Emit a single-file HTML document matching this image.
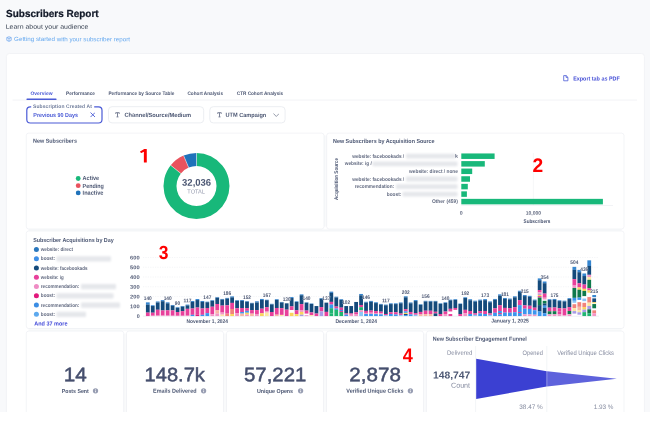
<!DOCTYPE html>
<html lang="en"><head><meta charset="utf-8"><title>Subscribers Report</title>
<style>
html,body{margin:0;padding:0}
body{width:650px;height:424px;overflow:hidden;position:relative;background:#f8f9fb;font-family:"Liberation Sans", Arial, sans-serif;}
.b{position:absolute;display:block}
.t{position:absolute;left:0;top:0;white-space:nowrap;transform-origin:0 0;}
</style></head><body>
<svg class="b" style="left:0;top:0" width="650" height="424" viewBox="0 0 650 424"><rect x="6.40" y="53.50" width="638.00" height="386.00" rx="3" fill="#fff" stroke="#f2f3f6" stroke-width="1.0"/><rect x="12.50" y="99.60" width="624.50" height="0.90" rx="0" fill="#f1f2f5"/><rect x="26.50" y="98.60" width="30.00" height="1.30" rx="0.5" fill="#4a5ad6"/><rect x="26.80" y="106.80" width="75.20" height="16.20" rx="3.5" fill="#fff" stroke="#4a5ad6" stroke-width="1.2"/><rect x="31.20" y="105.50" width="63.00" height="2.50" rx="0" fill="#fff"/><rect x="108.50" y="106.70" width="95.20" height="16.20" rx="3.5" fill="#fff" stroke="#eceef2" stroke-width="1.0"/><rect x="209.80" y="106.70" width="75.30" height="16.20" rx="3.5" fill="#fff" stroke="#eceef2" stroke-width="1.0"/><rect x="324.00" y="135.50" width="2.70" height="91.00" rx="0" fill="#f9fafb"/><rect x="28.50" y="229.00" width="593.00" height="102.10" rx="0" fill="#f9fafb"/><rect x="26.25" y="133.15" width="297.75" height="95.85" rx="2.4" fill="#fff" stroke="#e7e9ee" stroke-width="0.5"/><circle cx="78.20" cy="178.50" r="2.4" fill="#18b87a"/><circle cx="78.20" cy="185.70" r="2.4" fill="#e9535e"/><circle cx="78.20" cy="192.90" r="2.4" fill="#1f72ba"/><rect x="326.70" y="133.15" width="297.30" height="95.85" rx="2.4" fill="#fff" stroke="#e7e9ee" stroke-width="0.5"/><rect x="26.25" y="231.00" width="597.75" height="97.50" rx="2.4" fill="#fff" stroke="#e7e9ee" stroke-width="0.5"/><circle cx="36.40" cy="249.60" r="2.5" fill="#2a77bd"/><circle cx="36.40" cy="258.85" r="2.5" fill="#3f8fe6"/><circle cx="36.40" cy="268.10" r="2.5" fill="#144a7b"/><circle cx="36.40" cy="277.35" r="2.5" fill="#e8409b"/><circle cx="36.40" cy="286.60" r="2.5" fill="#ef8cc4"/><circle cx="36.40" cy="295.85" r="2.5" fill="#e2187c"/><circle cx="36.40" cy="305.10" r="2.5" fill="#3b8de4"/><circle cx="36.40" cy="314.35" r="2.5" fill="#5da9ee"/><rect x="123.50" y="333.50" width="3.30" height="78.50" rx="0" fill="#f9fafb"/><rect x="26.25" y="331.10" width="97.45" height="108.65" rx="2.4" fill="#fff" stroke="#e7e9ee" stroke-width="0.5"/><rect x="223.30" y="333.50" width="3.30" height="78.50" rx="0" fill="#f9fafb"/><rect x="126.50" y="331.10" width="97.00" height="108.65" rx="2.4" fill="#fff" stroke="#e7e9ee" stroke-width="0.5"/><rect x="323.30" y="333.50" width="3.30" height="78.50" rx="0" fill="#f9fafb"/><rect x="226.50" y="331.10" width="97.00" height="108.65" rx="2.4" fill="#fff" stroke="#e7e9ee" stroke-width="0.5"/><rect x="423.30" y="333.50" width="3.30" height="78.50" rx="0" fill="#f9fafb"/><rect x="326.50" y="331.10" width="97.00" height="108.65" rx="2.4" fill="#fff" stroke="#e7e9ee" stroke-width="0.5"/><rect x="426.40" y="331.10" width="197.60" height="108.65" rx="2.4" fill="#fff" stroke="#e7e9ee" stroke-width="0.5"/></svg>
<svg class="b" style="left:6.1px;top:35.9px" width="6" height="6" viewBox="0 0 6 6"><path d="M0.8 1.6 L3 0.7 L5.2 1.6 L5.2 4.4 L3 5.3 L0.8 4.4 Z M0.8 1.6 L3 2.5 L5.2 1.6 M3 2.5 L3 5.3" fill="none" stroke="#6aa5ee" stroke-width="0.7" stroke-linejoin="round"/></svg>
<svg class="b" style="left:563.3px;top:75.3px" width="5.6" height="6.4" viewBox="0 0 5.6 6.4"><path d="M0.7 0.6 H3.2 L4.9 2.3 V5.8 H0.7 Z M3.1 0.7 V2.4 H4.8" fill="none" stroke="#4a5ad6" stroke-width="0.8" stroke-linejoin="round"/></svg>
<svg class="b" style="left:89.5px;top:112.3px" width="5.6" height="5.6" viewBox="0 0 5.6 5.6"><path d="M0.8 0.8 L4.8 4.8 M4.8 0.8 L0.8 4.8" stroke="#4a5ad6" stroke-width="0.9" stroke-linecap="round"/></svg>
<svg class="b" style="left:114.8px;top:112.3px" width="5" height="5.6" viewBox="0 0 5 5.6"><path d="M0.7 1.8 V0.7 H4.3 V1.8 M2.5 0.7 V4.9 M1.5 4.9 H3.5" fill="none" stroke="#737b91" stroke-width="0.95"/></svg>
<svg class="b" style="left:216.8px;top:112.3px" width="5" height="5.6" viewBox="0 0 5 5.6"><path d="M0.7 1.8 V0.7 H4.3 V1.8 M2.5 0.7 V4.9 M1.5 4.9 H3.5" fill="none" stroke="#737b91" stroke-width="0.95"/></svg>
<svg class="b" style="left:272.5px;top:113px" width="6.6" height="4.4" viewBox="0 0 6.6 4.4"><path d="M0.7 0.8 L3.3 3.5 L5.9 0.8" fill="none" stroke="#7c8495" stroke-width="0.8" stroke-linecap="round" stroke-linejoin="round"/></svg>
<svg class="b" style="left:0;top:0" width="650" height="424" viewBox="0 0 650 424"><path d="M196.50 153.00 A33.0 33.0 0 1 1 170.75 165.37 L180.89 173.50 A20.0 20.0 0 1 0 196.50 166.00 Z" fill="#18b87a"/><path d="M170.75 165.37 A33.0 33.0 0 0 1 183.61 155.62 L188.69 167.59 A20.0 20.0 0 0 0 180.89 173.50 Z" fill="#e9535e"/><path d="M183.61 155.62 A33.0 33.0 0 0 1 196.50 153.00 L196.50 166.00 A20.0 20.0 0 0 0 188.69 167.59 Z" fill="#1f72ba"/><path d="M196.50 153.00 L196.50 166.00" stroke="#fff" stroke-width="0.45"/><path d="M170.75 165.37 L180.89 173.50" stroke="#fff" stroke-width="0.45"/><path d="M183.61 155.62 L188.69 167.59" stroke="#fff" stroke-width="0.45"/></svg>
<svg class="b" style="left:0;top:0" width="650" height="424" viewBox="0 0 650 424"><defs><filter id="bl" x="-5%" y="-40%" width="110%" height="180%"><feGaussianBlur stdDeviation="1.0"/></filter></defs><path d="M533.4 153 V205.4" stroke="#f0f1f4" stroke-width="0.6"/><path d="M461.2 205.5 H613" stroke="#eceef2" stroke-width="0.7"/><rect x="461.3" y="153.45" width="33.30" height="5.5" fill="#18b87a"/><rect x="461.3" y="161.10" width="23.50" height="5.5" fill="#18b87a"/><rect x="461.3" y="168.55" width="10.90" height="5.5" fill="#18b87a"/><rect x="461.3" y="176.25" width="8.70" height="5.5" fill="#18b87a"/><rect x="461.3" y="183.85" width="6.50" height="5.5" fill="#18b87a"/><rect x="461.3" y="191.35" width="5.60" height="5.5" fill="#18b87a"/><rect x="461.3" y="198.85" width="141.60" height="5.5" fill="#18b87a"/><rect x="406.0" y="153.80" width="49.5" height="4.8" rx="1" fill="#e5e7eb" filter="url(#bl)"/><rect x="372.5" y="161.45" width="85.0" height="4.8" rx="1" fill="#e5e7eb" filter="url(#bl)"/><rect x="406.0" y="176.60" width="51.5" height="4.8" rx="1" fill="#e5e7eb" filter="url(#bl)"/><rect x="396.0" y="184.20" width="61.5" height="4.8" rx="1" fill="#e5e7eb" filter="url(#bl)"/><rect x="402.5" y="191.70" width="55.0" height="4.8" rx="1" fill="#e5e7eb" filter="url(#bl)"/><rect x="56.5" y="256.25" width="54.5" height="5.2" rx="1" fill="#e5e7eb" filter="url(#bl)"/><rect x="81.0" y="284.00" width="35.0" height="5.2" rx="1" fill="#e5e7eb" filter="url(#bl)"/><rect x="56.5" y="293.25" width="57.0" height="5.2" rx="1" fill="#e5e7eb" filter="url(#bl)"/><rect x="81.0" y="302.50" width="39.0" height="5.2" rx="1" fill="#e5e7eb" filter="url(#bl)"/><rect x="56.5" y="311.75" width="29.5" height="5.2" rx="1" fill="#e5e7eb" filter="url(#bl)"/><path d="M143 306.25 H599" stroke="#eceef2" stroke-width="0.6" stroke-dasharray="1.2 1.2"/><path d="M143 296.50 H599" stroke="#eceef2" stroke-width="0.6" stroke-dasharray="1.2 1.2"/><path d="M143 286.75 H599" stroke="#eceef2" stroke-width="0.6" stroke-dasharray="1.2 1.2"/><path d="M143 277.00 H599" stroke="#eceef2" stroke-width="0.6" stroke-dasharray="1.2 1.2"/><path d="M143 267.25 H599" stroke="#eceef2" stroke-width="0.6" stroke-dasharray="1.2 1.2"/><path d="M143 257.50 H599" stroke="#eceef2" stroke-width="0.6" stroke-dasharray="1.2 1.2"/><path d="M143 316.20 H599" stroke="#e3e6eb" stroke-width="0.6"/><rect x="145.92" y="302.35" width="3.76" height="2.37" fill="#3585cf"/><rect x="145.92" y="304.67" width="3.76" height="7.97" fill="#144a7b"/><rect x="145.92" y="312.59" width="3.76" height="3.46" fill="#e8409b"/><rect x="150.88" y="305.27" width="3.76" height="0.80" fill="#3585cf"/><rect x="150.88" y="306.03" width="3.76" height="6.70" fill="#144a7b"/><rect x="150.88" y="312.68" width="3.76" height="3.05" fill="#e8409b"/><rect x="150.88" y="315.68" width="3.76" height="0.37" fill="#f296c6"/><rect x="155.84" y="301.47" width="3.76" height="1.07" fill="#3585cf"/><rect x="155.84" y="302.49" width="3.76" height="7.31" fill="#144a7b"/><rect x="155.84" y="309.75" width="3.76" height="5.86" fill="#e8409b"/><rect x="155.84" y="315.56" width="3.76" height="0.49" fill="#f296c6"/><rect x="160.80" y="300.11" width="3.76" height="1.16" fill="#3585cf"/><rect x="160.80" y="301.22" width="3.76" height="9.27" fill="#144a7b"/><rect x="160.80" y="310.44" width="3.76" height="5.14" fill="#e8409b"/><rect x="160.80" y="315.52" width="3.76" height="0.53" fill="#f296c6"/><rect x="165.76" y="302.35" width="3.76" height="1.01" fill="#3585cf"/><rect x="165.76" y="303.31" width="3.76" height="7.01" fill="#144a7b"/><rect x="165.76" y="310.27" width="3.76" height="5.37" fill="#e8409b"/><rect x="165.76" y="315.59" width="3.76" height="0.46" fill="#f296c6"/><rect x="170.72" y="304.98" width="3.76" height="0.82" fill="#3585cf"/><rect x="170.72" y="305.75" width="3.76" height="4.68" fill="#144a7b"/><rect x="170.72" y="310.38" width="3.76" height="5.34" fill="#e8409b"/><rect x="170.72" y="315.67" width="3.76" height="0.38" fill="#f296c6"/><rect x="175.68" y="307.23" width="3.76" height="0.66" fill="#3585cf"/><rect x="175.68" y="307.84" width="3.76" height="4.26" fill="#144a7b"/><rect x="175.68" y="312.05" width="3.76" height="3.74" fill="#e8409b"/><rect x="175.68" y="315.74" width="3.76" height="0.31" fill="#f296c6"/><rect x="180.64" y="306.06" width="3.76" height="0.75" fill="#3585cf"/><rect x="180.64" y="306.75" width="3.76" height="4.43" fill="#144a7b"/><rect x="180.64" y="311.13" width="3.76" height="4.62" fill="#e8409b"/><rect x="180.64" y="315.70" width="3.76" height="0.35" fill="#f296c6"/><rect x="185.60" y="304.59" width="3.76" height="0.85" fill="#3585cf"/><rect x="185.60" y="305.39" width="3.76" height="3.47" fill="#144a7b"/><rect x="185.60" y="308.81" width="3.76" height="6.89" fill="#e8409b"/><rect x="185.60" y="315.66" width="3.76" height="0.39" fill="#f296c6"/><rect x="190.56" y="300.99" width="3.76" height="0.95" fill="#3585cf"/><rect x="190.56" y="301.89" width="3.76" height="6.66" fill="#144a7b"/><rect x="190.56" y="308.49" width="3.76" height="6.36" fill="#e8409b"/><rect x="190.56" y="314.80" width="3.76" height="1.25" fill="#3b96ee"/><rect x="195.52" y="299.04" width="3.76" height="1.07" fill="#3585cf"/><rect x="195.52" y="300.05" width="3.76" height="7.51" fill="#144a7b"/><rect x="195.52" y="307.52" width="3.76" height="7.18" fill="#e8409b"/><rect x="195.52" y="314.64" width="3.76" height="1.41" fill="#e2187c"/><rect x="200.48" y="300.99" width="3.76" height="0.95" fill="#3585cf"/><rect x="200.48" y="301.89" width="3.76" height="6.66" fill="#144a7b"/><rect x="200.48" y="308.49" width="3.76" height="6.36" fill="#e8409b"/><rect x="200.48" y="314.80" width="3.76" height="1.25" fill="#3b96ee"/><rect x="205.44" y="301.67" width="3.76" height="0.62" fill="#3585cf"/><rect x="205.44" y="302.24" width="3.76" height="5.78" fill="#144a7b"/><rect x="205.44" y="307.97" width="3.76" height="5.21" fill="#e8409b"/><rect x="205.44" y="313.13" width="3.76" height="2.92" fill="#3b96ee"/><rect x="210.40" y="300.20" width="3.76" height="0.68" fill="#3585cf"/><rect x="210.40" y="300.84" width="3.76" height="5.89" fill="#144a7b"/><rect x="210.40" y="306.68" width="3.76" height="7.63" fill="#e8409b"/><rect x="210.40" y="314.26" width="3.76" height="1.79" fill="#f296c6"/><rect x="215.36" y="297.18" width="3.76" height="0.61" fill="#3585cf"/><rect x="215.36" y="297.75" width="3.76" height="6.26" fill="#144a7b"/><rect x="215.36" y="303.96" width="3.76" height="6.45" fill="#e8409b"/><rect x="215.36" y="310.35" width="3.76" height="3.25" fill="#f7b7a3"/><rect x="215.36" y="313.55" width="3.76" height="2.50" fill="#f296c6"/><rect x="220.32" y="298.94" width="3.76" height="0.73" fill="#3585cf"/><rect x="220.32" y="299.62" width="3.76" height="6.02" fill="#144a7b"/><rect x="220.32" y="305.59" width="3.76" height="7.05" fill="#e8409b"/><rect x="220.32" y="312.59" width="3.76" height="2.10" fill="#f296c6"/><rect x="220.32" y="314.64" width="3.76" height="1.42" fill="#fbe7a3"/><rect x="225.28" y="297.87" width="3.76" height="0.78" fill="#3585cf"/><rect x="225.28" y="298.59" width="3.76" height="6.76" fill="#144a7b"/><rect x="225.28" y="305.30" width="3.76" height="8.39" fill="#e8409b"/><rect x="225.28" y="313.64" width="3.76" height="2.41" fill="#f2837b"/><rect x="230.24" y="296.40" width="3.76" height="1.03" fill="#3585cf"/><rect x="230.24" y="297.38" width="3.76" height="5.54" fill="#144a7b"/><rect x="230.24" y="302.87" width="3.76" height="6.13" fill="#e8409b"/><rect x="230.24" y="308.94" width="3.76" height="5.15" fill="#f2837b"/><rect x="230.24" y="314.04" width="3.76" height="2.01" fill="#f9d45c"/><rect x="235.20" y="300.20" width="3.76" height="0.68" fill="#3585cf"/><rect x="235.20" y="300.84" width="3.76" height="7.47" fill="#144a7b"/><rect x="235.20" y="308.26" width="3.76" height="5.10" fill="#e8409b"/><rect x="235.20" y="313.31" width="3.76" height="2.74" fill="#f296c6"/><rect x="240.16" y="300.01" width="3.76" height="0.85" fill="#3585cf"/><rect x="240.16" y="300.81" width="3.76" height="7.25" fill="#144a7b"/><rect x="240.16" y="308.00" width="3.76" height="4.05" fill="#e8409b"/><rect x="240.16" y="312.00" width="3.76" height="1.65" fill="#3b96ee"/><rect x="240.16" y="313.60" width="3.76" height="2.45" fill="#f7b7a3"/><rect x="245.12" y="301.18" width="3.76" height="0.64" fill="#3585cf"/><rect x="245.12" y="301.77" width="3.76" height="6.42" fill="#144a7b"/><rect x="245.12" y="308.15" width="3.76" height="2.72" fill="#e8409b"/><rect x="245.12" y="310.81" width="3.76" height="1.98" fill="#3b96ee"/><rect x="245.12" y="312.74" width="3.76" height="1.98" fill="#f9d45c"/><rect x="245.12" y="314.67" width="3.76" height="1.38" fill="#f296c6"/><rect x="250.08" y="302.84" width="3.76" height="0.58" fill="#3585cf"/><rect x="250.08" y="303.36" width="3.76" height="6.76" fill="#144a7b"/><rect x="250.08" y="310.08" width="3.76" height="3.60" fill="#e8409b"/><rect x="250.08" y="313.63" width="3.76" height="2.42" fill="#f7b7a3"/><rect x="255.04" y="301.28" width="3.76" height="1.23" fill="#3585cf"/><rect x="255.04" y="302.46" width="3.76" height="7.71" fill="#144a7b"/><rect x="255.04" y="310.11" width="3.76" height="3.88" fill="#e8409b"/><rect x="255.04" y="313.94" width="3.76" height="2.11" fill="#f296c6"/><rect x="260.00" y="298.94" width="3.76" height="1.07" fill="#3585cf"/><rect x="260.00" y="299.96" width="3.76" height="8.75" fill="#144a7b"/><rect x="260.00" y="308.66" width="3.76" height="4.66" fill="#e8409b"/><rect x="260.00" y="313.27" width="3.76" height="2.78" fill="#f9d45c"/><rect x="264.96" y="299.72" width="3.76" height="0.54" fill="#3585cf"/><rect x="264.96" y="300.21" width="3.76" height="7.05" fill="#144a7b"/><rect x="264.96" y="307.21" width="3.76" height="3.79" fill="#e8409b"/><rect x="264.96" y="310.95" width="3.76" height="1.68" fill="#f296c6"/><rect x="264.96" y="312.58" width="3.76" height="3.47" fill="#fbe7a3"/><rect x="269.92" y="303.81" width="3.76" height="0.66" fill="#3585cf"/><rect x="269.92" y="304.42" width="3.76" height="7.61" fill="#144a7b"/><rect x="269.92" y="311.98" width="3.76" height="4.07" fill="#e8409b"/><rect x="274.88" y="299.23" width="3.76" height="0.72" fill="#3585cf"/><rect x="274.88" y="299.90" width="3.76" height="8.10" fill="#144a7b"/><rect x="274.88" y="307.95" width="3.76" height="6.76" fill="#e8409b"/><rect x="274.88" y="314.66" width="3.76" height="1.39" fill="#f7b7a3"/><rect x="279.84" y="301.96" width="3.76" height="0.61" fill="#3585cf"/><rect x="279.84" y="302.52" width="3.76" height="5.67" fill="#144a7b"/><rect x="279.84" y="308.14" width="3.76" height="6.79" fill="#e8409b"/><rect x="279.84" y="314.88" width="3.76" height="1.17" fill="#fbe7a3"/><rect x="284.80" y="303.32" width="3.76" height="6.39" fill="#144a7b"/><rect x="284.80" y="309.66" width="3.76" height="6.39" fill="#e8409b"/><rect x="289.76" y="297.08" width="3.76" height="1.00" fill="#3585cf"/><rect x="289.76" y="298.03" width="3.76" height="8.37" fill="#144a7b"/><rect x="289.76" y="306.35" width="3.76" height="3.64" fill="#e8409b"/><rect x="289.76" y="312.78" width="3.76" height="3.27" fill="#f9d45c"/><rect x="294.72" y="301.38" width="3.76" height="0.64" fill="#3585cf"/><rect x="294.72" y="301.96" width="3.76" height="8.39" fill="#144a7b"/><rect x="294.72" y="310.30" width="3.76" height="3.85" fill="#e8409b"/><rect x="294.72" y="314.10" width="3.76" height="1.95" fill="#f9d45c"/><rect x="299.68" y="294.36" width="3.76" height="0.92" fill="#3585cf"/><rect x="299.68" y="295.22" width="3.76" height="8.92" fill="#144a7b"/><rect x="299.68" y="304.10" width="3.76" height="6.33" fill="#e8409b"/><rect x="299.68" y="310.37" width="3.76" height="1.57" fill="#f296c6"/><rect x="299.68" y="311.89" width="3.76" height="2.86" fill="#f9d45c"/><rect x="299.68" y="314.70" width="3.76" height="1.35" fill="#a99be6"/><rect x="304.64" y="302.35" width="3.76" height="0.46" fill="#3585cf"/><rect x="304.64" y="302.76" width="3.76" height="7.83" fill="#144a7b"/><rect x="304.64" y="310.54" width="3.76" height="3.05" fill="#e8409b"/><rect x="304.64" y="315.18" width="3.76" height="0.87" fill="#f296c6"/><rect x="309.60" y="303.52" width="3.76" height="0.42" fill="#3585cf"/><rect x="309.60" y="303.89" width="3.76" height="8.54" fill="#144a7b"/><rect x="309.60" y="312.38" width="3.76" height="2.80" fill="#e8409b"/><rect x="309.60" y="315.13" width="3.76" height="0.92" fill="#fbe7a3"/><rect x="314.56" y="306.06" width="3.76" height="7.51" fill="#144a7b"/><rect x="314.56" y="313.51" width="3.76" height="2.54" fill="#e8409b"/><rect x="319.52" y="298.16" width="3.76" height="0.59" fill="#3585cf"/><rect x="319.52" y="298.69" width="3.76" height="8.44" fill="#144a7b"/><rect x="319.52" y="307.08" width="3.76" height="4.33" fill="#e8409b"/><rect x="319.52" y="311.36" width="3.76" height="4.69" fill="#a99be6"/><rect x="324.48" y="302.64" width="3.76" height="9.27" fill="#144a7b"/><rect x="324.48" y="311.86" width="3.76" height="4.19" fill="#e8409b"/><rect x="329.44" y="291.62" width="3.76" height="1.27" fill="#3585cf"/><rect x="329.44" y="292.84" width="3.76" height="9.07" fill="#144a7b"/><rect x="329.44" y="301.86" width="3.76" height="2.73" fill="#e8409b"/><rect x="329.44" y="304.54" width="3.76" height="3.71" fill="#3b96ee"/><rect x="329.44" y="308.20" width="3.76" height="5.41" fill="#1fb571"/><rect x="329.44" y="313.56" width="3.76" height="2.49" fill="#1fb571"/><rect x="334.40" y="296.69" width="3.76" height="0.82" fill="#3585cf"/><rect x="334.40" y="297.47" width="3.76" height="9.12" fill="#144a7b"/><rect x="334.40" y="306.54" width="3.76" height="1.98" fill="#e8409b"/><rect x="334.40" y="308.47" width="3.76" height="1.40" fill="#3b96ee"/><rect x="334.40" y="309.82" width="3.76" height="6.23" fill="#1fb571"/><rect x="339.36" y="299.23" width="3.76" height="0.72" fill="#3585cf"/><rect x="339.36" y="299.90" width="3.76" height="7.76" fill="#144a7b"/><rect x="339.36" y="307.62" width="3.76" height="2.40" fill="#e8409b"/><rect x="339.36" y="309.96" width="3.76" height="1.06" fill="#3b96ee"/><rect x="339.36" y="310.97" width="3.76" height="1.06" fill="#e8409b"/><rect x="339.36" y="311.98" width="3.76" height="4.07" fill="#1fb571"/><rect x="344.32" y="306.06" width="3.76" height="7.41" fill="#144a7b"/><rect x="344.32" y="313.41" width="3.76" height="1.24" fill="#e8409b"/><rect x="344.32" y="314.61" width="3.76" height="1.44" fill="#3b96ee"/><rect x="349.28" y="306.06" width="3.76" height="7.41" fill="#144a7b"/><rect x="349.28" y="313.41" width="3.76" height="1.24" fill="#e8409b"/><rect x="349.28" y="314.61" width="3.76" height="1.44" fill="#f296c6"/><rect x="354.24" y="301.96" width="3.76" height="10.44" fill="#144a7b"/><rect x="354.24" y="312.35" width="3.76" height="1.73" fill="#e8409b"/><rect x="354.24" y="314.03" width="3.76" height="2.02" fill="#f296c6"/><rect x="359.20" y="293.96" width="3.76" height="1.37" fill="#3585cf"/><rect x="359.20" y="295.29" width="3.76" height="9.75" fill="#144a7b"/><rect x="359.20" y="304.98" width="3.76" height="2.25" fill="#e8409b"/><rect x="359.20" y="307.19" width="3.76" height="3.13" fill="#1fb571"/><rect x="359.20" y="310.27" width="3.76" height="1.81" fill="#f296c6"/><rect x="359.20" y="312.03" width="3.76" height="4.02" fill="#8cc4f5"/><rect x="364.16" y="301.76" width="3.76" height="0.90" fill="#3585cf"/><rect x="364.16" y="302.62" width="3.76" height="8.31" fill="#144a7b"/><rect x="364.16" y="310.88" width="3.76" height="2.04" fill="#e8409b"/><rect x="364.16" y="312.87" width="3.76" height="1.19" fill="#f296c6"/><rect x="364.16" y="314.01" width="3.76" height="2.04" fill="#3b96ee"/><rect x="369.12" y="300.89" width="3.76" height="0.96" fill="#3585cf"/><rect x="369.12" y="301.79" width="3.76" height="8.82" fill="#144a7b"/><rect x="369.12" y="310.56" width="3.76" height="2.17" fill="#e8409b"/><rect x="369.12" y="312.68" width="3.76" height="1.26" fill="#f296c6"/><rect x="369.12" y="313.88" width="3.76" height="2.17" fill="#3b96ee"/><rect x="374.08" y="302.25" width="3.76" height="0.87" fill="#3585cf"/><rect x="374.08" y="303.08" width="3.76" height="8.02" fill="#144a7b"/><rect x="374.08" y="311.05" width="3.76" height="1.97" fill="#e8409b"/><rect x="374.08" y="312.98" width="3.76" height="1.15" fill="#f296c6"/><rect x="374.08" y="314.08" width="3.76" height="1.97" fill="#3b96ee"/><rect x="379.04" y="303.91" width="3.76" height="0.78" fill="#3585cf"/><rect x="379.04" y="304.64" width="3.76" height="7.06" fill="#144a7b"/><rect x="379.04" y="311.65" width="3.76" height="1.74" fill="#e8409b"/><rect x="379.04" y="313.34" width="3.76" height="1.02" fill="#f296c6"/><rect x="379.04" y="314.31" width="3.76" height="1.74" fill="#3b96ee"/><rect x="384.00" y="304.59" width="3.76" height="0.73" fill="#3585cf"/><rect x="384.00" y="305.28" width="3.76" height="8.72" fill="#144a7b"/><rect x="384.00" y="313.95" width="3.76" height="1.19" fill="#e8409b"/><rect x="384.00" y="315.09" width="3.76" height="0.96" fill="#8cc4f5"/><rect x="388.96" y="303.32" width="3.76" height="0.81" fill="#3585cf"/><rect x="388.96" y="304.09" width="3.76" height="8.16" fill="#144a7b"/><rect x="388.96" y="312.20" width="3.76" height="1.82" fill="#e8409b"/><rect x="388.96" y="313.97" width="3.76" height="2.08" fill="#3b96ee"/><rect x="393.92" y="303.32" width="3.76" height="0.81" fill="#3585cf"/><rect x="393.92" y="304.09" width="3.76" height="8.16" fill="#144a7b"/><rect x="393.92" y="312.20" width="3.76" height="2.33" fill="#e8409b"/><rect x="393.92" y="314.48" width="3.76" height="1.57" fill="#3b96ee"/><rect x="398.88" y="302.45" width="3.76" height="0.86" fill="#3585cf"/><rect x="398.88" y="303.26" width="3.76" height="10.35" fill="#144a7b"/><rect x="398.88" y="313.56" width="3.76" height="1.41" fill="#e8409b"/><rect x="398.88" y="314.92" width="3.76" height="1.13" fill="#8cc4f5"/><rect x="403.84" y="296.31" width="3.76" height="1.03" fill="#3585cf"/><rect x="403.84" y="297.29" width="3.76" height="11.87" fill="#144a7b"/><rect x="403.84" y="309.11" width="3.76" height="2.22" fill="#e8409b"/><rect x="403.84" y="311.27" width="3.76" height="1.63" fill="#3b96ee"/><rect x="403.84" y="312.85" width="3.76" height="1.23" fill="#f9d45c"/><rect x="403.84" y="314.03" width="3.76" height="1.03" fill="#144a7b"/><rect x="403.84" y="315.02" width="3.76" height="1.03" fill="#3b96ee"/><rect x="408.80" y="302.45" width="3.76" height="0.86" fill="#3585cf"/><rect x="408.80" y="303.26" width="3.76" height="8.72" fill="#144a7b"/><rect x="408.80" y="311.93" width="3.76" height="2.49" fill="#e8409b"/><rect x="408.80" y="314.37" width="3.76" height="1.68" fill="#3b96ee"/><rect x="413.76" y="300.11" width="3.76" height="1.00" fill="#3585cf"/><rect x="413.76" y="301.06" width="3.76" height="12.13" fill="#144a7b"/><rect x="413.76" y="313.14" width="3.76" height="1.64" fill="#e8409b"/><rect x="413.76" y="314.73" width="3.76" height="1.32" fill="#8cc4f5"/><rect x="418.72" y="304.30" width="3.76" height="0.64" fill="#3585cf"/><rect x="418.72" y="304.88" width="3.76" height="7.07" fill="#144a7b"/><rect x="418.72" y="311.90" width="3.76" height="2.62" fill="#e8409b"/><rect x="418.72" y="314.48" width="3.76" height="1.57" fill="#f7b7a3"/><rect x="423.68" y="300.79" width="3.76" height="0.81" fill="#3585cf"/><rect x="423.68" y="301.55" width="3.76" height="9.18" fill="#144a7b"/><rect x="423.68" y="310.68" width="3.76" height="3.40" fill="#e8409b"/><rect x="423.68" y="314.02" width="3.76" height="2.03" fill="#f7b7a3"/><rect x="428.64" y="300.89" width="3.76" height="0.81" fill="#3585cf"/><rect x="428.64" y="301.64" width="3.76" height="9.12" fill="#144a7b"/><rect x="428.64" y="310.71" width="3.76" height="3.37" fill="#e8409b"/><rect x="428.64" y="314.04" width="3.76" height="2.01" fill="#f7b7a3"/><rect x="433.60" y="300.89" width="3.76" height="0.65" fill="#3585cf"/><rect x="433.60" y="301.49" width="3.76" height="10.33" fill="#144a7b"/><rect x="433.60" y="311.77" width="3.76" height="1.71" fill="#e8409b"/><rect x="433.60" y="313.43" width="3.76" height="2.62" fill="#144a7b"/><rect x="438.56" y="303.32" width="3.76" height="0.56" fill="#3585cf"/><rect x="438.56" y="303.83" width="3.76" height="10.19" fill="#144a7b"/><rect x="438.56" y="313.97" width="3.76" height="2.08" fill="#e8409b"/><rect x="443.52" y="302.35" width="3.76" height="0.60" fill="#3585cf"/><rect x="443.52" y="302.90" width="3.76" height="8.65" fill="#144a7b"/><rect x="443.52" y="311.50" width="3.76" height="2.51" fill="#e8409b"/><rect x="443.52" y="313.95" width="3.76" height="2.10" fill="#f296c6"/><rect x="448.48" y="299.62" width="3.76" height="0.71" fill="#3585cf"/><rect x="448.48" y="300.28" width="3.76" height="8.57" fill="#144a7b"/><rect x="448.48" y="308.79" width="3.76" height="2.67" fill="#e8409b"/><rect x="448.48" y="314.03" width="3.76" height="2.02" fill="#e8409b"/><rect x="453.44" y="299.23" width="3.76" height="0.72" fill="#3585cf"/><rect x="453.44" y="299.90" width="3.76" height="8.10" fill="#144a7b"/><rect x="453.44" y="307.95" width="3.76" height="1.89" fill="#e8409b"/><rect x="458.40" y="303.52" width="3.76" height="0.55" fill="#3585cf"/><rect x="458.40" y="304.02" width="3.76" height="10.03" fill="#144a7b"/><rect x="458.40" y="314.00" width="3.76" height="2.05" fill="#e8409b"/><rect x="463.36" y="297.28" width="3.76" height="0.80" fill="#3585cf"/><rect x="463.36" y="298.03" width="3.76" height="11.84" fill="#144a7b"/><rect x="463.36" y="309.82" width="3.76" height="3.42" fill="#e8409b"/><rect x="463.36" y="313.19" width="3.76" height="2.86" fill="#f296c6"/><rect x="468.32" y="299.23" width="3.76" height="1.06" fill="#3585cf"/><rect x="468.32" y="300.24" width="3.76" height="10.78" fill="#144a7b"/><rect x="468.32" y="310.97" width="3.76" height="3.07" fill="#e8409b"/><rect x="468.32" y="313.99" width="3.76" height="2.06" fill="#3b96ee"/><rect x="473.28" y="300.69" width="3.76" height="0.97" fill="#3585cf"/><rect x="473.28" y="301.61" width="3.76" height="11.68" fill="#144a7b"/><rect x="473.28" y="313.24" width="3.76" height="1.58" fill="#e8409b"/><rect x="473.28" y="314.78" width="3.76" height="1.27" fill="#8cc4f5"/><rect x="478.24" y="299.62" width="3.76" height="1.03" fill="#3585cf"/><rect x="478.24" y="300.60" width="3.76" height="10.53" fill="#144a7b"/><rect x="478.24" y="311.09" width="3.76" height="2.34" fill="#e8409b"/><rect x="478.24" y="313.38" width="3.76" height="2.67" fill="#3b96ee"/><rect x="483.20" y="299.13" width="3.76" height="1.06" fill="#3585cf"/><rect x="483.20" y="300.14" width="3.76" height="10.85" fill="#144a7b"/><rect x="483.20" y="310.94" width="3.76" height="3.09" fill="#e8409b"/><rect x="483.20" y="313.98" width="3.76" height="2.07" fill="#3b96ee"/><rect x="488.16" y="301.38" width="3.76" height="0.93" fill="#3585cf"/><rect x="488.16" y="302.25" width="3.76" height="11.17" fill="#144a7b"/><rect x="488.16" y="313.37" width="3.76" height="1.51" fill="#e8409b"/><rect x="488.16" y="314.83" width="3.76" height="1.22" fill="#8cc4f5"/><rect x="493.12" y="298.94" width="3.76" height="0.90" fill="#3585cf"/><rect x="493.12" y="299.79" width="3.76" height="8.58" fill="#144a7b"/><rect x="493.12" y="308.32" width="3.76" height="4.49" fill="#e8409b"/><rect x="493.12" y="312.76" width="3.76" height="3.29" fill="#3b96ee"/><rect x="498.08" y="294.36" width="3.76" height="1.35" fill="#3585cf"/><rect x="498.08" y="295.65" width="3.76" height="9.57" fill="#144a7b"/><rect x="498.08" y="305.18" width="3.76" height="5.89" fill="#e8409b"/><rect x="498.08" y="311.02" width="3.76" height="2.21" fill="#3b96ee"/><rect x="498.08" y="313.19" width="3.76" height="1.13" fill="#e2187c"/><rect x="498.08" y="314.27" width="3.76" height="1.78" fill="#3b96ee"/><rect x="503.04" y="297.96" width="3.76" height="0.95" fill="#3585cf"/><rect x="503.04" y="298.86" width="3.76" height="9.07" fill="#144a7b"/><rect x="503.04" y="307.88" width="3.76" height="4.74" fill="#e8409b"/><rect x="503.04" y="312.57" width="3.76" height="3.48" fill="#3b96ee"/><rect x="508.00" y="298.55" width="3.76" height="0.92" fill="#3585cf"/><rect x="508.00" y="299.42" width="3.76" height="8.78" fill="#144a7b"/><rect x="508.00" y="308.15" width="3.76" height="4.59" fill="#e8409b"/><rect x="508.00" y="312.68" width="3.76" height="3.37" fill="#3b96ee"/><rect x="512.96" y="296.31" width="3.76" height="1.03" fill="#3585cf"/><rect x="512.96" y="297.29" width="3.76" height="9.90" fill="#144a7b"/><rect x="512.96" y="307.14" width="3.76" height="5.17" fill="#e8409b"/><rect x="512.96" y="312.26" width="3.76" height="3.79" fill="#3b96ee"/><rect x="517.92" y="290.75" width="3.76" height="1.06" fill="#3585cf"/><rect x="517.92" y="291.76" width="3.76" height="8.38" fill="#144a7b"/><rect x="517.92" y="300.09" width="3.76" height="5.10" fill="#e8409b"/><rect x="517.92" y="305.14" width="3.76" height="6.87" fill="#3b96ee"/><rect x="517.92" y="311.96" width="3.76" height="1.06" fill="#e8409b"/><rect x="517.92" y="312.97" width="3.76" height="3.08" fill="#3b96ee"/><rect x="522.88" y="295.04" width="3.76" height="1.10" fill="#3585cf"/><rect x="522.88" y="296.09" width="3.76" height="9.27" fill="#144a7b"/><rect x="522.88" y="305.31" width="3.76" height="3.40" fill="#e8409b"/><rect x="522.88" y="308.66" width="3.76" height="5.71" fill="#3b96ee"/><rect x="522.88" y="314.32" width="3.76" height="1.73" fill="#f296c6"/><rect x="527.84" y="295.82" width="3.76" height="1.06" fill="#3585cf"/><rect x="527.84" y="296.83" width="3.76" height="8.93" fill="#144a7b"/><rect x="527.84" y="305.71" width="3.76" height="3.28" fill="#e8409b"/><rect x="527.84" y="308.94" width="3.76" height="5.50" fill="#3b96ee"/><rect x="527.84" y="314.39" width="3.76" height="1.66" fill="#f296c6"/><rect x="532.80" y="299.62" width="3.76" height="0.87" fill="#3585cf"/><rect x="532.80" y="300.44" width="3.76" height="7.26" fill="#144a7b"/><rect x="532.80" y="307.65" width="3.76" height="2.67" fill="#e8409b"/><rect x="532.80" y="310.27" width="3.76" height="4.47" fill="#3b96ee"/><rect x="532.80" y="314.69" width="3.76" height="1.36" fill="#f296c6"/><rect x="537.76" y="278.37" width="3.76" height="1.93" fill="#3585cf"/><rect x="537.76" y="280.25" width="3.76" height="9.84" fill="#144a7b"/><rect x="537.76" y="290.03" width="3.76" height="2.31" fill="#e8409b"/><rect x="537.76" y="292.29" width="3.76" height="1.56" fill="#f296c6"/><rect x="537.76" y="293.80" width="3.76" height="1.18" fill="#a99be6"/><rect x="537.76" y="294.92" width="3.76" height="1.18" fill="#f9d45c"/><rect x="537.76" y="296.05" width="3.76" height="1.56" fill="#e8409b"/><rect x="537.76" y="297.56" width="3.76" height="7.58" fill="#0f7a4c"/><rect x="537.76" y="305.09" width="3.76" height="6.45" fill="#144a7b"/><rect x="537.76" y="311.48" width="3.76" height="4.57" fill="#3b96ee"/><rect x="542.72" y="281.49" width="3.76" height="1.78" fill="#3585cf"/><rect x="542.72" y="283.21" width="3.76" height="10.40" fill="#144a7b"/><rect x="542.72" y="293.57" width="3.76" height="4.19" fill="#e8409b"/><rect x="542.72" y="297.71" width="3.76" height="1.78" fill="#f296c6"/><rect x="542.72" y="300.81" width="3.76" height="2.81" fill="#0f7a4c"/><rect x="542.72" y="303.57" width="3.76" height="2.12" fill="#144a7b"/><rect x="542.72" y="305.65" width="3.76" height="2.12" fill="#3b96ee"/><rect x="542.72" y="307.72" width="3.76" height="5.57" fill="#144a7b"/><rect x="542.72" y="313.24" width="3.76" height="2.81" fill="#3b96ee"/><rect x="547.68" y="299.23" width="3.76" height="0.89" fill="#3585cf"/><rect x="547.68" y="300.07" width="3.76" height="7.60" fill="#144a7b"/><rect x="547.68" y="307.62" width="3.76" height="3.74" fill="#e8409b"/><rect x="547.68" y="311.30" width="3.76" height="3.07" fill="#0f7a4c"/><rect x="547.68" y="314.32" width="3.76" height="1.73" fill="#f296c6"/><rect x="552.64" y="298.94" width="3.76" height="0.90" fill="#3585cf"/><rect x="552.64" y="299.79" width="3.76" height="7.73" fill="#144a7b"/><rect x="552.64" y="307.47" width="3.76" height="3.80" fill="#e8409b"/><rect x="552.64" y="311.22" width="3.76" height="3.12" fill="#0f7a4c"/><rect x="552.64" y="314.29" width="3.76" height="1.76" fill="#f296c6"/><rect x="557.60" y="300.30" width="3.76" height="0.83" fill="#3585cf"/><rect x="557.60" y="301.09" width="3.76" height="7.11" fill="#144a7b"/><rect x="557.60" y="308.15" width="3.76" height="3.50" fill="#e8409b"/><rect x="557.60" y="311.60" width="3.76" height="2.88" fill="#e8409b"/><rect x="557.60" y="314.43" width="3.76" height="1.62" fill="#f296c6"/><rect x="562.56" y="300.69" width="3.76" height="0.82" fill="#3585cf"/><rect x="562.56" y="301.46" width="3.76" height="6.94" fill="#144a7b"/><rect x="562.56" y="308.35" width="3.76" height="6.94" fill="#e8409b"/><rect x="562.56" y="315.23" width="3.76" height="0.82" fill="#f296c6"/><rect x="567.52" y="298.16" width="3.76" height="0.94" fill="#3585cf"/><rect x="567.52" y="299.05" width="3.76" height="8.08" fill="#144a7b"/><rect x="567.52" y="307.08" width="3.76" height="3.98" fill="#e8409b"/><rect x="567.52" y="311.00" width="3.76" height="3.26" fill="#0f7a4c"/><rect x="567.52" y="314.22" width="3.76" height="1.83" fill="#f296c6"/><rect x="572.48" y="266.86" width="3.76" height="3.00" fill="#3585cf"/><rect x="572.48" y="269.81" width="3.76" height="9.39" fill="#144a7b"/><rect x="572.48" y="279.14" width="3.76" height="6.44" fill="#e8409b"/><rect x="572.48" y="285.53" width="3.76" height="2.51" fill="#f296c6"/><rect x="572.48" y="287.99" width="3.76" height="9.88" fill="#0f7a4c"/><rect x="572.48" y="297.82" width="3.76" height="3.00" fill="#3b96ee"/><rect x="572.48" y="300.77" width="3.76" height="2.02" fill="#8cc4f5"/><rect x="572.48" y="304.21" width="3.76" height="3.98" fill="#f2837b"/><rect x="572.48" y="308.14" width="3.76" height="3.00" fill="#fbe7a3"/><rect x="572.48" y="311.09" width="3.76" height="2.51" fill="#a99be6"/><rect x="577.44" y="269.88" width="3.76" height="2.36" fill="#3585cf"/><rect x="577.44" y="272.19" width="3.76" height="11.12" fill="#144a7b"/><rect x="577.44" y="283.26" width="3.76" height="4.20" fill="#e8409b"/><rect x="577.44" y="287.41" width="3.76" height="2.36" fill="#f9d45c"/><rect x="577.44" y="289.71" width="3.76" height="7.89" fill="#0f7a4c"/><rect x="577.44" y="297.55" width="3.76" height="2.36" fill="#3b96ee"/><rect x="577.44" y="302.16" width="3.76" height="4.66" fill="#f2837b"/><rect x="577.44" y="306.78" width="3.76" height="3.74" fill="#f7b7a3"/><rect x="577.44" y="310.47" width="3.76" height="1.89" fill="#fbe7a3"/><rect x="577.44" y="312.31" width="3.76" height="2.36" fill="#a99be6"/><rect x="582.40" y="273.49" width="3.76" height="2.60" fill="#3585cf"/><rect x="582.40" y="276.04" width="3.76" height="8.55" fill="#144a7b"/><rect x="582.40" y="284.54" width="3.76" height="4.30" fill="#e8409b"/><rect x="582.40" y="288.79" width="3.76" height="2.18" fill="#f9d45c"/><rect x="582.40" y="290.92" width="3.76" height="5.15" fill="#0f7a4c"/><rect x="582.40" y="298.57" width="3.76" height="2.60" fill="#8cc4f5"/><rect x="582.40" y="302.82" width="3.76" height="4.30" fill="#f2837b"/><rect x="582.40" y="307.07" width="3.76" height="2.60" fill="#f9d45c"/><rect x="582.40" y="309.62" width="3.76" height="2.60" fill="#a99be6"/><rect x="582.40" y="312.17" width="3.76" height="3.88" fill="#1fb571"/><rect x="587.36" y="260.33" width="3.76" height="5.62" fill="#3585cf"/><rect x="587.36" y="265.89" width="3.76" height="8.96" fill="#144a7b"/><rect x="587.36" y="274.80" width="3.76" height="2.28" fill="#f296c6"/><rect x="587.36" y="277.03" width="3.76" height="2.83" fill="#fbe7a3"/><rect x="587.36" y="279.81" width="3.76" height="8.40" fill="#0f7a4c"/><rect x="587.36" y="288.16" width="3.76" height="2.28" fill="#e8409b"/><rect x="587.36" y="290.39" width="3.76" height="2.28" fill="#f9d45c"/><rect x="587.36" y="297.07" width="3.76" height="5.62" fill="#f2837b"/><rect x="587.36" y="302.64" width="3.76" height="3.39" fill="#fbe7a3"/><rect x="587.36" y="305.98" width="3.76" height="3.39" fill="#a99be6"/><rect x="587.36" y="309.32" width="3.76" height="3.95" fill="#0f7a4c"/><rect x="587.36" y="313.22" width="3.76" height="2.83" fill="#1fb571"/><rect x="592.32" y="295.04" width="3.76" height="2.15" fill="#3585cf"/><rect x="592.32" y="298.39" width="3.76" height="3.82" fill="#144a7b"/><rect x="592.32" y="302.16" width="3.76" height="1.10" fill="#f9d45c"/><rect x="592.32" y="304.05" width="3.76" height="4.24" fill="#0f7a4c"/><rect x="592.32" y="310.34" width="3.76" height="2.98" fill="#f2837b"/><rect x="592.32" y="313.27" width="3.76" height="2.78" fill="#f296c6"/><circle cx="95.50" cy="390.80" r="2.65" fill="#979db2"/><path d="M95.50 390.50 V392.30" stroke="#fff" stroke-width="0.8"/><circle cx="95.50" cy="389.50" r="0.45" fill="#fff"/><circle cx="203.60" cy="390.80" r="2.65" fill="#979db2"/><path d="M203.60 390.50 V392.30" stroke="#fff" stroke-width="0.8"/><circle cx="203.60" cy="389.50" r="0.45" fill="#fff"/><circle cx="300.60" cy="390.80" r="2.65" fill="#979db2"/><path d="M300.60 390.50 V392.30" stroke="#fff" stroke-width="0.8"/><circle cx="300.60" cy="389.50" r="0.45" fill="#fff"/><circle cx="410.40" cy="390.80" r="2.65" fill="#979db2"/><path d="M410.40 390.50 V392.30" stroke="#fff" stroke-width="0.8"/><circle cx="410.40" cy="389.50" r="0.45" fill="#fff"/><path d="M475.6 346 V412 M546.8 346 V412" stroke="#eef0f3" stroke-width="0.7"/><path d="M476.2 358.8 L546.7 371.2 L546.7 386.5 L476.2 398.9 Z" fill="#3b40d2"/><path d="M547.1 371.2 L616.8 378.8 L547.1 386.5 Z" fill="#5e62dc"/></svg>
<div class="b" style="left:0;top:412px;width:650px;height:12px;background:#fff;z-index:50"></div>
<div id="txt" style="position:absolute;left:0;top:0;width:650px;height:424px;will-change:transform">
<span class="t" id="t0" style="font-size:10.8px;line-height:14.04px;font-weight:700;color:#111827;transform:translate(6.12px,6.31px) rotate(0.03deg) scale(0.9236,0.9487);-webkit-text-stroke:0.25px #111827;">Subscribers Report</span>
<span class="t" id="t1" style="font-size:6.4px;line-height:8.32px;font-weight:400;color:#374151;transform:translate(5.76px,22.86px) rotate(0.03deg) scale(1.0877,0.9892);">Learn about your audience</span>
<span class="t" id="t2" style="font-size:6.1px;line-height:7.93px;font-weight:400;color:#67aaf0;transform:translate(14.09px,35.17px) rotate(0.03deg) scale(1.0218,0.9888);">Getting started with your subscriber report</span>
<span class="t" id="t3" style="font-size:5.78px;line-height:7.51px;font-weight:700;color:#444ed6;transform:translate(573.20px,75.53px) rotate(0.03deg) scaleX(0.9361);">Export tab as PDF</span>
<span class="t" id="t4" style="font-size:5.01px;line-height:6.51px;font-weight:700;color:#4a5ad6;transform:translate(30.50px,90.00px) rotate(0.03deg) scaleX(0.9888);">Overview</span>
<span class="t" id="t5" style="font-size:5.01px;line-height:6.51px;font-weight:700;color:#4c5773;transform:translate(66.00px,90.00px) rotate(0.03deg) scaleX(0.9484);">Performance</span>
<span class="t" id="t6" style="font-size:5.01px;line-height:6.51px;font-weight:700;color:#4c5773;transform:translate(108.50px,90.00px) rotate(0.03deg) scaleX(0.9371);">Performance by Source Table</span>
<span class="t" id="t7" style="font-size:5.01px;line-height:6.51px;font-weight:700;color:#4c5773;transform:translate(187.50px,90.00px) rotate(0.03deg) scaleX(0.9304);">Cohort Analysis</span>
<span class="t" id="t8" style="font-size:5.01px;line-height:6.51px;font-weight:700;color:#4c5773;transform:translate(236.80px,90.00px) rotate(0.03deg) scaleX(0.9292);">CTR Cohort Analysis</span>
<span class="t" id="t9" style="font-size:5.12px;line-height:6.66px;font-weight:700;color:#6f7c9b;transform:translate(33.00px,103.04px) rotate(0.03deg) scaleX(0.9662);letter-spacing:0.12px;">Subscription Created At</span>
<span class="t" id="t10" style="font-size:5.89px;line-height:7.66px;font-weight:700;color:#4a5ad6;transform:translate(33.30px,111.87px) rotate(0.03deg) scaleX(0.9184);">Previous 90 Days</span>
<span class="t" id="t11" style="font-size:5.89px;line-height:7.66px;font-weight:700;color:#4c5773;transform:translate(124.50px,111.87px) rotate(0.03deg) scaleX(0.9699);">Channel/Source/Medium</span>
<span class="t" id="t12" style="font-size:5.89px;line-height:7.66px;font-weight:700;color:#4c5773;transform:translate(225.50px,111.87px) rotate(0.03deg) scaleX(0.9540);">UTM Campaign</span>
<span class="t" id="t13" style="font-size:5.78px;line-height:7.51px;font-weight:700;color:#4c5773;transform:translate(33.00px,137.83px) rotate(0.03deg) scaleX(0.9402);">New Subscribers</span>
<span class="t" id="t14" style="font-size:9.6px;line-height:12.48px;font-weight:700;color:#4c5773;transform:translate(182.10px,176.57px) rotate(0.03deg) scale(0.9888,1.0149);">32,036</span>
<span class="t" id="t15" style="font-size:5.8px;line-height:7.54px;font-weight:400;color:#9499ad;transform:translate(187.30px,188.39px) rotate(0.03deg) scale(0.9731,1.0120);">TOTAL</span>
<span class="t" id="t16" style="font-size:6.0px;line-height:7.8px;font-weight:700;color:#4c5773;transform:translate(82.60px,175.30px) rotate(0.03deg) scaleX(0.9214);">Active</span>
<span class="t" id="t17" style="font-size:6.0px;line-height:7.8px;font-weight:700;color:#4c5773;transform:translate(82.60px,182.50px) rotate(0.03deg) scaleX(0.8956);">Pending</span>
<span class="t" id="t18" style="font-size:6.0px;line-height:7.8px;font-weight:700;color:#4c5773;transform:translate(82.60px,189.70px) rotate(0.03deg) scaleX(0.9347);">Inactive</span>
<span class="t" id="t19" style="font-size:21px;line-height:27.3px;font-weight:700;color:#fe0000;font-family:'NanumGothic','Liberation Sans',sans-serif;transform:translate(136.41px,144.50px) rotate(0.03deg) scale(1.2908,0.8533);">1</span>
<span class="t" id="t20" style="font-size:5.78px;line-height:7.51px;font-weight:700;color:#4c5773;transform:translate(333.10px,137.83px) rotate(0.03deg) scaleX(0.9308);">New Subscribers by Acquisition Source</span>
<span class="t" id="t21" style="font-size:19.5px;line-height:25.35px;font-weight:700;color:#fe0000;transform:translate(532.50px,152.78px) rotate(0.03deg) scale(0.9846,1.0065);">2</span>
<span class="t" id="t22" style="font-size:5.34px;line-height:6.94px;font-weight:700;color:#656d83;transform:translate(352.20px,152.80px) rotate(0.03deg) scaleX(0.8913);">website: facebookads /</span>
<span class="t" id="t23" style="font-size:5.34px;line-height:6.94px;font-weight:700;color:#656d83;transform:translate(454.93px,152.80px) rotate(0.03deg);">k</span>
<span class="t" id="t24" style="font-size:5.34px;line-height:6.94px;font-weight:700;color:#656d83;transform:translate(344.80px,160.45px) rotate(0.03deg) scaleX(0.8852);">website: ig /</span>
<span class="t" id="t25" style="font-size:5.34px;line-height:6.94px;font-weight:700;color:#656d83;transform:translate(409.10px,167.90px) rotate(0.03deg) scaleX(0.8957);">website: direct / none</span>
<span class="t" id="t26" style="font-size:5.34px;line-height:6.94px;font-weight:700;color:#656d83;transform:translate(352.20px,175.60px) rotate(0.03deg) scaleX(0.8913);">website: facebookads /</span>
<span class="t" id="t27" style="font-size:5.34px;line-height:6.94px;font-weight:700;color:#656d83;transform:translate(354.70px,183.20px) rotate(0.03deg) scaleX(0.8833);">recommendation:</span>
<span class="t" id="t28" style="font-size:5.34px;line-height:6.94px;font-weight:700;color:#656d83;transform:translate(386.80px,190.70px) rotate(0.03deg) scaleX(0.8906);">boost:</span>
<span class="t" id="t29" style="font-size:5.34px;line-height:6.94px;font-weight:700;color:#656d83;transform:translate(431.90px,198.20px) rotate(0.03deg) scaleX(0.9239);">Other (459)</span>
<span class="t" id="t30" style="font-size:5.23px;line-height:6.8px;font-weight:700;color:#656d83;transform:translate(459.85px,209.67px) rotate(0.03deg);">0</span>
<span class="t" id="t31" style="font-size:5.23px;line-height:6.8px;font-weight:700;color:#656d83;transform:translate(525.65px,209.67px) rotate(0.03deg) scaleX(0.9706);">10,000</span>
<span class="t" id="t32" style="font-size:5.34px;line-height:6.94px;font-weight:700;color:#4c5773;transform:translate(523.60px,217.60px) rotate(0.03deg) scaleX(0.8698);">Subscribers</span>
<span class="t" id="t33" style="font-size:5.34px;line-height:6.94px;font-weight:700;color:#4c5773;transform:translate(336.60px,179.00px) rotate(-90.03deg) scaleX(0.8649) translate(-24.28px,-3.40px);">Acquisition Source</span>
<span class="t" id="t34" style="font-size:5.78px;line-height:7.51px;font-weight:700;color:#4c5773;transform:translate(33.20px,236.53px) rotate(0.03deg) scaleX(0.9293);">Subscriber Acquisitions by Day</span>
<span class="t" id="t35" style="font-size:19.5px;line-height:25.35px;font-weight:700;color:#fe0000;transform:translate(158.73px,239.93px) rotate(0.03deg) scale(0.8951,0.9775);">3</span>
<span class="t" id="t36" style="font-size:5.34px;line-height:6.94px;font-weight:700;color:#656d83;transform:translate(40.80px,246.20px) rotate(0.03deg) scaleX(0.8630);">website: direct</span>
<span class="t" id="t37" style="font-size:5.34px;line-height:6.94px;font-weight:700;color:#656d83;transform:translate(40.80px,255.45px) rotate(0.03deg) scaleX(0.8722);">boost:</span>
<span class="t" id="t38" style="font-size:5.34px;line-height:6.94px;font-weight:700;color:#656d83;transform:translate(40.80px,264.70px) rotate(0.03deg) scaleX(0.8433);">website: facebookads</span>
<span class="t" id="t39" style="font-size:5.34px;line-height:6.94px;font-weight:700;color:#656d83;transform:translate(40.80px,273.95px) rotate(0.03deg) scaleX(0.8349);">website: ig</span>
<span class="t" id="t40" style="font-size:5.34px;line-height:6.94px;font-weight:700;color:#656d83;transform:translate(40.80px,283.20px) rotate(0.03deg) scaleX(0.8609);">recommendation:</span>
<span class="t" id="t41" style="font-size:5.34px;line-height:6.94px;font-weight:700;color:#656d83;transform:translate(40.80px,292.45px) rotate(0.03deg) scaleX(0.8722);">boost:</span>
<span class="t" id="t42" style="font-size:5.34px;line-height:6.94px;font-weight:700;color:#656d83;transform:translate(40.80px,301.70px) rotate(0.03deg) scaleX(0.8609);">recommendation:</span>
<span class="t" id="t43" style="font-size:5.34px;line-height:6.94px;font-weight:700;color:#656d83;transform:translate(40.80px,310.95px) rotate(0.03deg) scaleX(0.8722);">boost:</span>
<span class="t" id="t44" style="font-size:5.89px;line-height:7.66px;font-weight:700;color:#4048d8;transform:translate(34.30px,320.57px) rotate(0.03deg) scaleX(0.9327);">And 37 more</span>
<span class="t" id="t45" style="font-size:5.34px;line-height:6.94px;font-weight:700;color:#565f79;transform:translate(136.63px,312.91px) rotate(0.03deg);">0</span>
<span class="t" id="t46" style="font-size:5.34px;line-height:6.94px;font-weight:700;color:#565f79;transform:translate(130.10px,303.16px) rotate(0.03deg) scaleX(1.0685);">100</span>
<span class="t" id="t47" style="font-size:5.34px;line-height:6.94px;font-weight:700;color:#565f79;transform:translate(130.10px,293.41px) rotate(0.03deg) scaleX(1.0685);">200</span>
<span class="t" id="t48" style="font-size:5.34px;line-height:6.94px;font-weight:700;color:#565f79;transform:translate(130.10px,283.66px) rotate(0.03deg) scaleX(1.0685);">300</span>
<span class="t" id="t49" style="font-size:5.34px;line-height:6.94px;font-weight:700;color:#565f79;transform:translate(130.10px,273.91px) rotate(0.03deg) scaleX(1.0685);">400</span>
<span class="t" id="t50" style="font-size:5.34px;line-height:6.94px;font-weight:700;color:#565f79;transform:translate(130.10px,264.16px) rotate(0.03deg) scaleX(1.0685);">500</span>
<span class="t" id="t51" style="font-size:5.34px;line-height:6.94px;font-weight:700;color:#565f79;transform:translate(130.10px,254.41px) rotate(0.03deg) scaleX(1.0685);">600</span>
<span class="t" id="t52" style="font-size:5.23px;line-height:6.8px;font-weight:700;color:#4c5773;transform:translate(143.80px,294.92px) rotate(0.03deg) scaleX(0.9176);text-shadow:0 0 1px #fff,0 0 1px #fff;">140</span>
<span class="t" id="t53" style="font-size:5.23px;line-height:6.8px;font-weight:700;color:#4c5773;transform:translate(163.64px,294.92px) rotate(0.03deg) scaleX(0.9176);text-shadow:0 0 1px #fff,0 0 1px #fff;">140</span>
<span class="t" id="t54" style="font-size:5.23px;line-height:6.8px;font-weight:700;color:#4c5773;transform:translate(174.86px,299.80px) rotate(0.03deg) scaleX(0.9290);text-shadow:0 0 1px #fff,0 0 1px #fff;">90</span>
<span class="t" id="t55" style="font-size:5.23px;line-height:6.8px;font-weight:700;color:#4c5773;transform:translate(183.48px,297.16px) rotate(0.03deg) scaleX(0.9499);text-shadow:0 0 1px #fff,0 0 1px #fff;">117</span>
<span class="t" id="t56" style="font-size:5.23px;line-height:6.8px;font-weight:700;color:#4c5773;transform:translate(203.32px,294.24px) rotate(0.03deg) scaleX(0.9176);text-shadow:0 0 1px #fff,0 0 1px #fff;">147</span>
<span class="t" id="t57" style="font-size:5.23px;line-height:6.8px;font-weight:700;color:#4c5773;transform:translate(223.16px,290.44px) rotate(0.03deg) scaleX(0.9176);text-shadow:0 0 1px #fff,0 0 1px #fff;">186</span>
<span class="t" id="t58" style="font-size:5.23px;line-height:6.8px;font-weight:700;color:#4c5773;transform:translate(243.00px,293.75px) rotate(0.03deg) scaleX(0.9176);text-shadow:0 0 1px #fff,0 0 1px #fff;">152</span>
<span class="t" id="t59" style="font-size:5.23px;line-height:6.8px;font-weight:700;color:#4c5773;transform:translate(262.84px,292.29px) rotate(0.03deg) scaleX(0.9176);text-shadow:0 0 1px #fff,0 0 1px #fff;">167</span>
<span class="t" id="t60" style="font-size:5.23px;line-height:6.8px;font-weight:700;color:#4c5773;transform:translate(282.68px,295.90px) rotate(0.03deg) scaleX(0.9176);text-shadow:0 0 1px #fff,0 0 1px #fff;">130</span>
<span class="t" id="t61" style="font-size:5.23px;line-height:6.8px;font-weight:700;color:#4c5773;transform:translate(302.52px,294.92px) rotate(0.03deg) scaleX(0.9176);text-shadow:0 0 1px #fff,0 0 1px #fff;">140</span>
<span class="t" id="t62" style="font-size:5.23px;line-height:6.8px;font-weight:700;color:#4c5773;transform:translate(322.36px,295.21px) rotate(0.03deg) scaleX(0.9176);text-shadow:0 0 1px #fff,0 0 1px #fff;">137</span>
<span class="t" id="t63" style="font-size:5.23px;line-height:6.8px;font-weight:700;color:#4c5773;transform:translate(342.20px,298.63px) rotate(0.03deg) scaleX(0.9176);text-shadow:0 0 1px #fff,0 0 1px #fff;">102</span>
<span class="t" id="t64" style="font-size:5.23px;line-height:6.8px;font-weight:700;color:#4c5773;transform:translate(362.04px,294.34px) rotate(0.03deg) scaleX(0.9176);text-shadow:0 0 1px #fff,0 0 1px #fff;">146</span>
<span class="t" id="t65" style="font-size:5.23px;line-height:6.8px;font-weight:700;color:#4c5773;transform:translate(381.88px,297.16px) rotate(0.03deg) scaleX(0.9499);text-shadow:0 0 1px #fff,0 0 1px #fff;">117</span>
<span class="t" id="t66" style="font-size:5.23px;line-height:6.8px;font-weight:700;color:#4c5773;transform:translate(401.72px,288.88px) rotate(0.03deg) scaleX(0.9176);text-shadow:0 0 1px #fff,0 0 1px #fff;">202</span>
<span class="t" id="t67" style="font-size:5.23px;line-height:6.8px;font-weight:700;color:#4c5773;transform:translate(421.56px,293.36px) rotate(0.03deg) scaleX(0.9176);text-shadow:0 0 1px #fff,0 0 1px #fff;">156</span>
<span class="t" id="t68" style="font-size:5.23px;line-height:6.8px;font-weight:700;color:#4c5773;transform:translate(441.40px,294.92px) rotate(0.03deg) scaleX(0.9176);text-shadow:0 0 1px #fff,0 0 1px #fff;">140</span>
<span class="t" id="t69" style="font-size:5.23px;line-height:6.8px;font-weight:700;color:#4c5773;transform:translate(461.24px,289.85px) rotate(0.03deg) scaleX(0.9176);text-shadow:0 0 1px #fff,0 0 1px #fff;">192</span>
<span class="t" id="t70" style="font-size:5.23px;line-height:6.8px;font-weight:700;color:#4c5773;transform:translate(481.08px,291.70px) rotate(0.03deg) scaleX(0.9176);text-shadow:0 0 1px #fff,0 0 1px #fff;">173</span>
<span class="t" id="t71" style="font-size:5.23px;line-height:6.8px;font-weight:700;color:#4c5773;transform:translate(500.92px,290.53px) rotate(0.03deg) scaleX(0.9176);text-shadow:0 0 1px #fff,0 0 1px #fff;">181</span>
<span class="t" id="t72" style="font-size:5.23px;line-height:6.8px;font-weight:700;color:#4c5773;transform:translate(520.76px,287.61px) rotate(0.03deg) scaleX(0.9176);text-shadow:0 0 1px #fff,0 0 1px #fff;">215</span>
<span class="t" id="t73" style="font-size:5.23px;line-height:6.8px;font-weight:700;color:#4c5773;transform:translate(540.60px,274.06px) rotate(0.03deg) scaleX(0.9176);text-shadow:0 0 1px #fff,0 0 1px #fff;">354</span>
<span class="t" id="t74" style="font-size:5.23px;line-height:6.8px;font-weight:700;color:#4c5773;transform:translate(550.52px,291.51px) rotate(0.03deg) scaleX(0.9176);text-shadow:0 0 1px #fff,0 0 1px #fff;">175</span>
<span class="t" id="t75" style="font-size:5.23px;line-height:6.8px;font-weight:700;color:#4c5773;transform:translate(570.36px,259.43px) rotate(0.03deg) scaleX(0.9176);text-shadow:0 0 1px #fff,0 0 1px #fff;">504</span>
<span class="t" id="t76" style="font-size:5.23px;line-height:6.8px;font-weight:700;color:#4c5773;transform:translate(580.28px,266.06px) rotate(0.03deg) scaleX(0.9176);text-shadow:0 0 1px #fff,0 0 1px #fff;">436</span>
<span class="t" id="t77" style="font-size:5.23px;line-height:6.8px;font-weight:700;color:#4c5773;transform:translate(590.20px,287.61px) rotate(0.03deg) scaleX(0.9176);text-shadow:0 0 1px #fff,0 0 1px #fff;">215</span>
<span class="t" id="t78" style="font-size:5.34px;line-height:6.94px;font-weight:700;color:#4c5773;transform:translate(186.60px,317.50px) rotate(0.03deg) scaleX(0.9133);">November 1, 2024</span>
<span class="t" id="t79" style="font-size:5.34px;line-height:6.94px;font-weight:700;color:#4c5773;transform:translate(335.40px,317.50px) rotate(0.03deg) scaleX(0.9238);">December 1, 2024</span>
<span class="t" id="t80" style="font-size:5.34px;line-height:6.94px;font-weight:700;color:#4c5773;transform:translate(491.25px,317.50px) rotate(0.03deg) scaleX(0.9445);">January 1, 2025</span>
<span class="t" id="t81" style="font-size:20px;line-height:26.0px;font-weight:400;color:#454e6d;transform:translate(63.71px,361.82px) rotate(0.03deg) scale(1.0342,0.9742);-webkit-text-stroke:0.5px #454e6d;">14</span>
<span class="t" id="t82" style="font-size:5.78px;line-height:7.51px;font-weight:700;color:#4c5773;transform:translate(61.70px,387.73px) rotate(0.03deg) scaleX(0.9095);">Posts Sent</span>
<span class="t" id="t83" style="font-size:20px;line-height:26.0px;font-weight:400;color:#454e6d;transform:translate(144.54px,361.82px) rotate(0.03deg) scale(1.0049,0.9742);-webkit-text-stroke:0.5px #454e6d;">148.7k</span>
<span class="t" id="t84" style="font-size:5.78px;line-height:7.51px;font-weight:700;color:#4c5773;transform:translate(153.10px,387.73px) rotate(0.03deg) scaleX(0.9403);">Emails Delivered</span>
<span class="t" id="t85" style="font-size:20px;line-height:26.0px;font-weight:400;color:#454e6d;transform:translate(244.06px,361.82px) rotate(0.03deg) scale(1.0178,0.9742);-webkit-text-stroke:0.5px #454e6d;">57,221</span>
<span class="t" id="t86" style="font-size:5.78px;line-height:7.51px;font-weight:700;color:#4c5773;transform:translate(256.90px,387.73px) rotate(0.03deg) scaleX(0.9260);">Unique Opens</span>
<span class="t" id="t87" style="font-size:20px;line-height:26.0px;font-weight:400;color:#454e6d;transform:translate(349.34px,361.82px) rotate(0.03deg) scale(1.0290,0.9742);-webkit-text-stroke:0.5px #454e6d;">2,878</span>
<span class="t" id="t88" style="font-size:5.78px;line-height:7.51px;font-weight:700;color:#4c5773;transform:translate(346.30px,387.73px) rotate(0.03deg) scaleX(0.9445);">Verified Unique Clicks</span>
<span class="t" id="t89" style="font-size:19.5px;line-height:25.35px;font-weight:700;color:#fe0000;transform:translate(402.80px,342.98px) rotate(0.03deg) scale(0.9299,1.0065);">4</span>
<span class="t" id="t90" style="font-size:5.78px;line-height:7.51px;font-weight:700;color:#4c5773;transform:translate(432.80px,335.63px) rotate(0.03deg) scaleX(0.9374);">New Subscriber Engagement Funnel</span>
<span class="t" id="t91" style="font-size:6.2px;line-height:8.06px;font-weight:400;color:#878da1;transform:translate(447.01px,348.70px) rotate(0.03deg) scale(0.9727,1.0000);">Delivered</span>
<span class="t" id="t92" style="font-size:9.9px;line-height:12.87px;font-weight:700;color:#4c5773;transform:translate(433.07px,369.31px) rotate(0.03deg) scale(1.0437,1.0216);">148,747</span>
<span class="t" id="t93" style="font-size:7.1px;line-height:9.23px;font-weight:400;color:#878da1;transform:translate(450.95px,381.67px) rotate(0.03deg) scale(1.0122,1.0297);">Count</span>
<span class="t" id="t94" style="font-size:6.43px;line-height:8.36px;font-weight:400;color:#878da1;transform:translate(522.60px,348.63px) rotate(0.03deg) scaleX(0.8837);">Opened</span>
<span class="t" id="t95" style="font-size:6.43px;line-height:8.36px;font-weight:400;color:#878da1;transform:translate(557.20px,348.63px) rotate(0.03deg) scaleX(0.9093);">Verified Unique Clicks</span>
<span class="t" id="t96" style="font-size:6.43px;line-height:8.36px;font-weight:400;color:#878da1;transform:translate(519.30px,403.00px) rotate(0.03deg) scaleX(0.9967);">38.47 %</span>
<span class="t" id="t97" style="font-size:6.43px;line-height:8.36px;font-weight:400;color:#878da1;transform:translate(593.80px,403.00px) rotate(0.03deg) scaleX(0.9850);">1.93 %</span>
</div>
</body></html>
